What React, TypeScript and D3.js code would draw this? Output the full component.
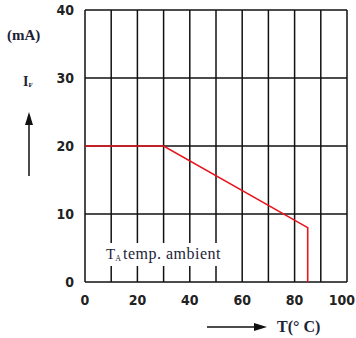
import React from "react";
import * as d3 from "d3";

const xTicks = [0, 20, 40, 60, 80, 100];
const yTicks = [0, 10, 20, 30, 40];
const xGrid = [0, 10, 20, 30, 40, 50, 60, 70, 80, 90, 100];
const curveT = [0, 30, 85, 85];
const curveI = [20, 20, 8, 0];

export default function App() {
  const W = 356, H = 338;
  const x = d3.scaleLinear().domain([0, 100]).range([85, 347]);
  const y = d3.scaleLinear().domain([0, 40]).range([282, 10]);
  const pts: [number, number][] = curveT.map((t, i) => [x(t), y(curveI[i])]);
  const line = d3.line();
  const font = "'DejaVu Sans Condensed', 'DejaVu Sans', sans-serif";
  const serif = "'Liberation Serif', 'DejaVu Serif', serif";
  const gapTop = 243, gapBot = 266;
  const txt = "#1c2238";
  return (
    <svg width={W} height={H} style={{ position: "absolute", left: 0, top: 0 }}>
      <rect width={W} height={H} fill="#fff" />
      {xGrid.map((g) => {
        const gx = x(g);
        if (g >= 10 && g <= 50) {
          return (
            <g key={g}>
              <line x1={gx} x2={gx} y1={y(40)} y2={gapTop} stroke="#111" strokeWidth={1.5} />
              <line x1={gx} x2={gx} y1={gapBot} y2={y(0)} stroke="#111" strokeWidth={1.5} />
            </g>
          );
        }
        return <line key={g} x1={gx} x2={gx} y1={y(40)} y2={y(0)} stroke="#111" strokeWidth={1.5} />;
      })}
      {yTicks.map((t) => (
        <line key={t} x1={x(0)} x2={x(100)} y1={y(t)} y2={y(t)} stroke="#111" strokeWidth={1.5} />
      ))}
      <path d={line(pts) || ""} fill="none" stroke="#e8141c" strokeWidth={1.6} />
      {yTicks.map((t) => (
        <text key={t} x={x(0) - 11} y={y(t)} dy="0.36em" textAnchor="end" fontFamily={font} fontWeight="bold" fontSize={14} fill="#222">
          {t}
        </text>
      ))}
      {xTicks.map((t) => (
        <text key={t} x={t === 100 ? x(t) - 5 : x(t)} y={300} dy="0.36em" textAnchor="middle" fontFamily={font} fontWeight="bold" fontSize={14} fill="#222">
          {t}
        </text>
      ))}
      <text x={106} y={259} fontFamily={serif} fontSize={15} fill={txt}>
        T<tspan fontSize={8} dy={2}>A</tspan>
      </text>
      <text x={123} y={259} fontFamily={serif} fontSize={16} fill={txt} letterSpacing={0.5}>
        temp. ambient
      </text>
      <text x={7} y={40} fontFamily={serif} fontWeight="bold" fontSize={15} fill={txt}>(mA)</text>
      <text x={23} y={86} fontFamily={serif} fontWeight="bold" fontSize={14} fill={txt}>
        I<tspan fontSize={7} dy={1}>F</tspan>
      </text>
      <line x1={29} x2={29} y1={176} y2={122} stroke="#111" strokeWidth={1.5} />
      <path d="M29,112 L25,125 L33,125 Z" fill="#111" />
      <line x1={207} x2={256} y1={327} y2={327} stroke="#111" strokeWidth={1.5} />
      <path d="M267,327 L254,323 L254,331 Z" fill="#111" />
      <text x={277} y={332} fontFamily={serif} fontWeight="bold" fontSize={16} fill={txt}>T(° C)</text>
    </svg>
  );
}
